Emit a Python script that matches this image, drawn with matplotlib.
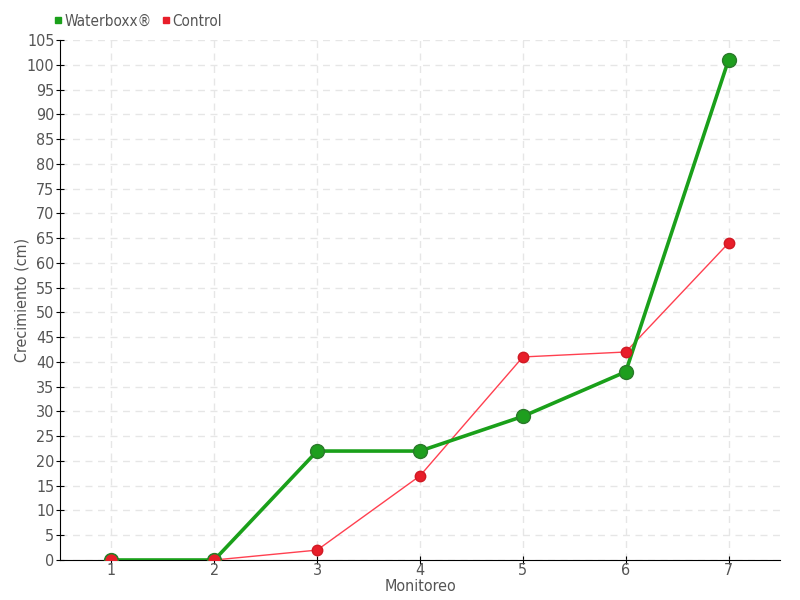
import numpy as np
import matplotlib.pyplot as plt
from matplotlib.lines import Line2D

monitoreo = [1, 2, 3, 4, 5, 6, 7]
waterboxx = [0, 0, 22, 22, 29, 38, 101]
control = [0, 0, 2, 17, 41, 42, 64]

plt.rcParams['font.family'] = ['DejaVu Sans']
plt.rcParams['font.stretch'] = 'condensed'
txt = '#555555'

fig = plt.figure(figsize=(8, 6), dpi=100)
ax = fig.add_axes([60/800, 40/600, 720/800, 520/600])

ax.plot(monitoreo, control, color='#ff4050', lw=1, zorder=3)
ax.plot(monitoreo, control, 'o', color='#e81e2a', ms=7.5, mec='#d01a24', zorder=5)
ax.plot(monitoreo, waterboxx, color='#1aa01a', lw=2.6, zorder=4)
ax.plot(monitoreo, waterboxx, 'o', color='#1e9e1e', ms=10, mec='#2a7a2a', mew=1, zorder=4)
ax.plot(monitoreo[:2], control[:2], 'o', color='#e81e2a', ms=7.5, zorder=6)

ax.set_xlim(0.5, 7.5)
ax.set_ylim(0, 105)
ax.set_xticks(monitoreo)
ax.set_yticks(np.arange(0, 106, 5))
ax.grid(True, linestyle=(0, (5, 4)), color='#e6e6e6', lw=1)
ax.set_axisbelow(True)
for s in ['top', 'right']:
    ax.spines[s].set_visible(False)
for s in ['left', 'bottom']:
    ax.spines[s].set_color('black')
ax.tick_params(direction='inout', length=6, colors='black', labelcolor=txt, labelsize=11.5)
ax.tick_params(axis='x', pad=-1)
ax.tick_params(axis='y', pad=1)

ax.set_xlabel('Monitoreo', color=txt, fontsize=11.5)
ax.xaxis.set_label_coords(0.5, -0.036)
ax.set_ylabel('Crecimiento (cm)', color=txt, fontsize=11.5)
ax.yaxis.set_label_coords(-0.043, 0.5)

handles = [Line2D([], [], marker='s', ls='none', color='#1aa01a', ms=5),
           Line2D([], [], marker='s', ls='none', color='#e81e2a', ms=5)]
fig.legend(handles, ['Waterboxx®', 'Control'], loc='upper left',
           bbox_to_anchor=(38/800, 1 - 0/600), ncol=2, frameon=False,
           fontsize=11, handletextpad=0.05, columnspacing=0.5,
           handlelength=0.8, labelcolor=txt)

fig.savefig('out.png', dpi=100)
